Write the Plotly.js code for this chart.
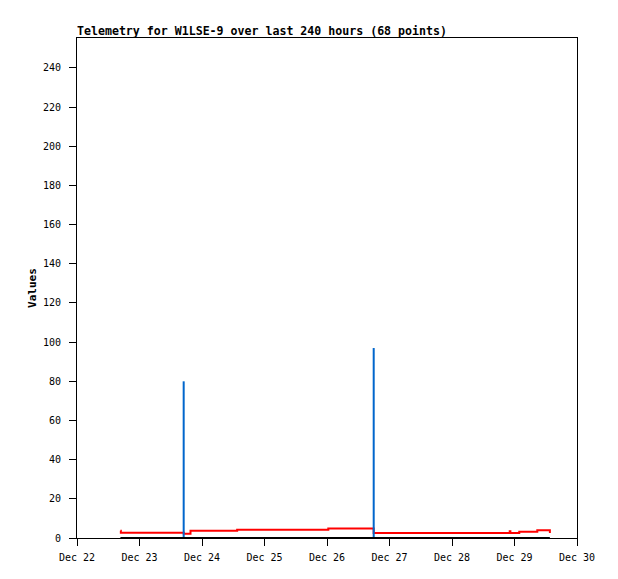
<!DOCTYPE html>
<html>
<head>
<meta charset="utf-8">
<script src="https://cdn.plot.ly/plotly-3.0.1.min.js"></script>
<style>html,body{margin:0;padding:0;background:#fff;}#chart{width:618px;height:579px;}</style>
</head>
<body>
<div id="chart"></div>
<script>
// Red series (step values)
const redTimes = ['2024-12-22 16:40','2024-12-22 16:50','2024-12-23 17:00','2024-12-23 19:35','2024-12-24 13:30','2024-12-26 00:30','2024-12-26 17:55','2024-12-28 22:10','2024-12-28 22:25','2024-12-29 01:50','2024-12-29 08:45','2024-12-29 13:35'];
const redValues = [3.7, 2.7, 2.2, 3.7, 4.2, 4.9, 2.6, 3.4, 2.6, 3.2, 3.9, 2.6];
// Blue spikes
const blueTimes = ['2024-12-23 16:58','2024-12-23 16:58',null,'2024-12-26 17:56','2024-12-26 17:56'];
const blueValues = [0, 80, null, 0, 97];
// Black series
const blackTimes = ['2024-12-22 16:40','2024-12-29 13:35'];
const blackValues = [0, 0];
const yTicks = [0,20,40,60,80,100,120,140,160,180,200,220,240];
const xTicks = ['2024-12-22','2024-12-23','2024-12-24','2024-12-25','2024-12-26','2024-12-27','2024-12-28','2024-12-29','2024-12-30'];
const xTickText = ['Dec 22','Dec 23','Dec 24','Dec 25','Dec 26','Dec 27','Dec 28','Dec 29','Dec 30'];

const traces = [
  {x: redTimes, y: redValues, mode: 'lines', line: {color: '#ff0000', width: 2, shape: 'hv'}, hoverinfo: 'skip'},
  {x: blueTimes, y: blueValues, mode: 'lines', line: {color: '#0066cc', width: 2}, connectgaps: false, hoverinfo: 'skip'},
  {x: blackTimes, y: blackValues, mode: 'lines', line: {color: '#000000', width: 2}, hoverinfo: 'skip'}
];
const mono = 'DejaVu Sans Mono, Liberation Mono, monospace';
const layout = {
  width: 618, height: 579,
  margin: {l: 77, r: 41, t: 38, b: 41},
  paper_bgcolor: '#fff', plot_bgcolor: '#fff',
  showlegend: false,
  title: {text: '<b>Telemetry for W1LSE-9 over last 240 hours (68 points)</b>', x: 77/618, xanchor: 'left', y: 1 - 31/579, yanchor: 'middle', font: {family: mono, size: 11.6, color: '#000'}},
  xaxis: {
    type: 'date', range: ['2024-12-22', '2024-12-30'],
    tickvals: xTicks, ticktext: xTickText,
    ticks: 'outside', ticklen: 7, tickcolor: '#000', tickwidth: 1,
    ticklabelstandoff: 3,
    showgrid: false, zeroline: false,
    showline: true, linecolor: '#000', linewidth: 1, mirror: true,
    tickfont: {family: mono, size: 10, color: '#000'}
  },
  yaxis: {
    range: [0, 255.3],
    tickvals: yTicks,
    ticks: 'outside', ticklen: 7, tickcolor: '#000', tickwidth: 1,
    ticklabelstandoff: 6,
    showgrid: false, zeroline: false,
    showline: true, linecolor: '#000', linewidth: 1, mirror: true,
    tickfont: {family: mono, size: 10, color: '#000'},
    title: {text: '<b>Values</b>', font: {family: mono, size: 11, color: '#000'}, standoff: 4}
  }
};
Plotly.newPlot('chart', traces, layout, {staticPlot: true, displayModeBar: false});
</script>
</body>
</html>
